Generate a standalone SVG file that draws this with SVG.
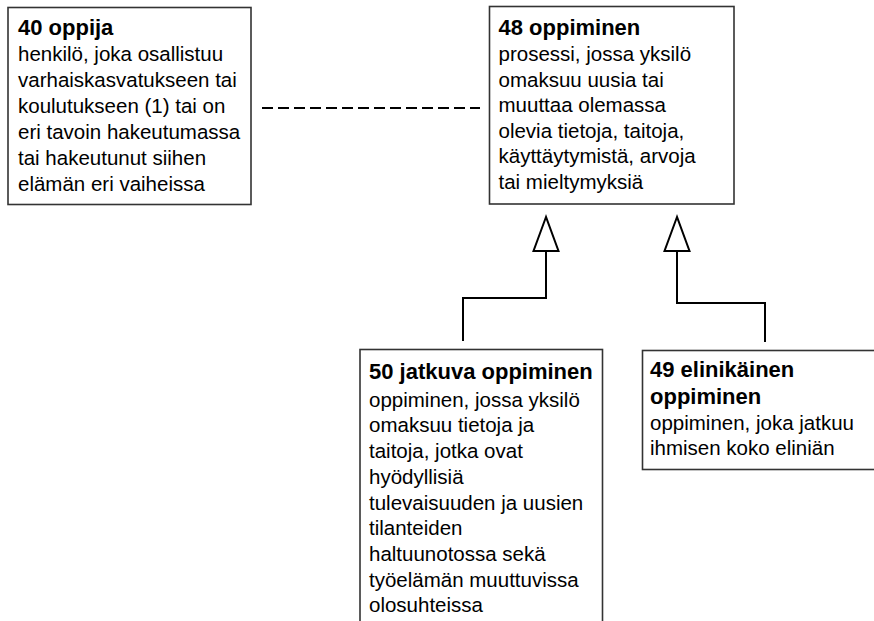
<svg xmlns="http://www.w3.org/2000/svg" width="874" height="621" viewBox="0 0 874 621">
<style>
.box{fill:#fff;stroke:#333;stroke-width:1.6}
.t{font-family:"Liberation Sans",Arial,sans-serif;font-size:20.5px;fill:#000}
.b{font-weight:bold;font-size:22px}
.c{fill:none;stroke:#000;stroke-width:2}
.h{fill:#fff;stroke:#000;stroke-width:2}
</style>
<rect width="874" height="621" fill="#fff"/>
<g id="connectors">
<line class="c" x1="262" y1="108" x2="480" y2="108" stroke-dasharray="11,5"/>
<polyline class="c" points="463,341 463,298 546,298 546,251"/>
<polygon class="h" points="546,217 533.5,251 558.5,251"/>
<polyline class="c" points="765,342 765,303 677,303 677,251"/>
<polygon class="h" points="677,217 664.5,251 689.5,251"/>
</g>
<g id="n40">
<rect class="box" x="8" y="7.5" width="243" height="197"/>
<text class="t b" x="18" y="35">40 oppija</text>
<text class="t" x="18" y="61">henkilö, joka osallistuu</text>
<text class="t" x="18" y="87">varhaiskasvatukseen tai</text>
<text class="t" x="18" y="113">koulutukseen (1) tai on</text>
<text class="t" x="18" y="139">eri tavoin hakeutumassa</text>
<text class="t" x="18" y="165">tai hakeutunut siihen</text>
<text class="t" x="18" y="191">elämän eri vaiheissa</text>
</g>
<g id="n48">
<rect class="box" x="489.5" y="6.5" width="244.5" height="197.5"/>
<text class="t b" x="498.5" y="35">48 oppiminen</text>
<text class="t" x="498.5" y="61">prosessi, jossa yksilö</text>
<text class="t" x="498.5" y="86.5">omaksuu uusia tai</text>
<text class="t" x="498.5" y="112">muuttaa olemassa</text>
<text class="t" x="498.5" y="137.5">olevia tietoja, taitoja,</text>
<text class="t" x="498.5" y="163">käyttäytymistä, arvoja</text>
<text class="t" x="498.5" y="188.5">tai mieltymyksiä</text>
</g>
<g id="n50">
<rect class="box" x="360" y="349.5" width="242.5" height="290"/>
<text class="t b" x="369" y="378.5">50 jatkuva oppiminen</text>
<text class="t" x="369" y="406.5">oppiminen, jossa yksilö</text>
<text class="t" x="369" y="432">omaksuu tietoja ja</text>
<text class="t" x="369" y="458">taitoja, jotka ovat</text>
<text class="t" x="369" y="483.5">hyödyllisiä</text>
<text class="t" x="369" y="509.5">tulevaisuuden ja uusien</text>
<text class="t" x="369" y="535">tilanteiden</text>
<text class="t" x="369" y="561">haltuunotossa sekä</text>
<text class="t" x="369" y="586.5">työelämän muuttuvissa</text>
<text class="t" x="369" y="612">olosuhteissa</text>
</g>
<g id="n49">
<rect class="box" x="642.5" y="350.5" width="240" height="119"/>
<text class="t b" x="650" y="377">49 elinikäinen</text>
<text class="t b" x="650" y="403.5">oppiminen</text>
<text class="t" x="650" y="429.5">oppiminen, joka jatkuu</text>
<text class="t" x="650" y="455">ihmisen koko eliniän</text>
</g>
</svg>
